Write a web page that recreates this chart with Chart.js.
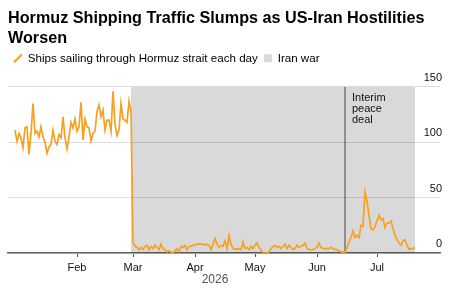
<!DOCTYPE html>
<html>
<head>
<meta charset="utf-8">
<script src="https://cdn.jsdelivr.net/npm/chart.js@4.4.1/dist/chart.umd.min.js"></script>
<style>
  html, body { margin: 0; padding: 0; background: #fff; }
  #wrap { width: 457px; height: 288px; }
</style>
</head>
<body>
<div id="wrap"><canvas id="chart"></canvas></div>
<script>
// values, one per day starting 1 Jan 2026
var firstDay = '2026-01-01';
var ships = [
  111, 101, 108, 104, 95, 113, 114, 89, 108, 135, 108, 110, 105, 114, 105, 100,
  90, 96, 98, 111, 101, 98, 107, 104, 123, 104, 94, 105, 118, 113, 121, 110,
  114, 136, 102, 121, 114, 113, 101, 108, 110, 128, 134, 123, 129, 111, 120, 120,
  110, 146, 116, 106, 111, 135, 121, 120, 118, 137, 128,
  // march on
  10, 6, 5, 3, 5, 3, 6, 7, 3, 6, 4, 7, 5, 3, 8, 4, 3, 1, 2, 1, 0, 2, 4, 1, 6, 5,
  7, 3, 6, 6, 7,
  7, 8, 8, 8, 8, 7, 8, 7, 3, 8, 13, 8, 5, 7, 6, 11, 4, 16, 8, 4, 4, 3, 4, 3, 10,
  4, 5, 3, 6, 4,
  7, 9, 5, 3, 0, 0, 0, 1, 4, 6, 7, 5, 6, 4, 6, 8, 4, 7, 5, 3, 4, 7, 5, 6, 7, 9,
  4, 3, 3, 3, 4,
  5, 9, 5, 4, 4, 4, 4, 5, 4, 3, 3, 2, 1, 1, 0, 5, 10, 14, 20, 14, 16, 14, 25, 24,
  55, 47, 34, 22, 21, 24, 29,
  34, 30, 31, 23, 27, 27, 29, 22, 16, 12, 9, 7, 11, 12, 7, 3, 4, 4, 5
];
var shipsLabel = 'Ships sailing through Hormuz strait each day';

var warLabel = 'Iran war';
var warPeriod = ['2026-02-28', '2026-07-20'];

var dealDate = '2026-06-15';
var dealText = ['Interim', 'peace', 'deal'];

var monthDays = ['2026-02-01', '2026-03-01', '2026-04-01', '2026-05-01', '2026-06-01', '2026-07-01'];
var monthLabels = ['Feb', 'Mar', 'Apr', 'May', 'Jun', 'Jul'];
var yTicks = [0, 50, 100, 150];
var yearLabel = '2026';

var orange = '#f7a021';
var font = 'Liberation Sans, Arial, sans-serif';

function dayNo(s) {
  return Math.round((Date.parse(s) - Date.parse(firstDay)) / 86400000);
}

// deal label next to the vertical line, and the year under the months
var notes = {
  id: 'notes',
  afterDatasetsDraw: function(chart) {
    var ctx = chart.ctx;
    var xs = chart.scales.x;
    var x = xs.getPixelForValue(dayNo(dealDate)) + 7;
    var y = chart.scales.y.getPixelForValue(150) + 14;
    ctx.save();
    ctx.font = '11px ' + font;
    ctx.fillStyle = '#111';
    ctx.textBaseline = 'alphabetic';
    dealText.forEach(function(line, i) {
      ctx.fillText(line, x, y + i * 11);
    });
    // year sits under the middle of the data
    var mid = (xs.getPixelForValue(0) + xs.getPixelForValue(ships.length - 1)) / 2;
    ctx.font = '12px ' + font;
    ctx.fillStyle = '#555';
    ctx.textAlign = 'center';
    ctx.textBaseline = 'middle';
    ctx.fillText(yearLabel, mid, xs.bottom + 1);
    ctx.restore();
  }
};

var ctx = document.getElementById('chart').getContext('2d');
var chart = new Chart(ctx, {
  type: 'line',
  data: {
    datasets: [{
      label: shipsLabel,
      data: ships.map(function(v, i) { return { x: i, y: v }; }),
      borderColor: orange,
      borderWidth: 1.7,
      pointRadius: 0,
      tension: 0,
      order: 0
    }, {
      label: dealDate,
      data: [{ x: dayNo(dealDate), y: 0 }, { x: dayNo(dealDate), y: 150 }],
      borderColor: '#444',
      borderWidth: 1,
      pointRadius: 0,
      order: 1
    }, {
      label: warLabel,
      data: [{ x: dayNo(warPeriod[0]), y: 150 }, { x: dayNo(warPeriod[1]), y: 150 }],
      borderWidth: 0,
      backgroundColor: 'rgba(0,0,0,0.15)',
      fill: 'origin',
      pointRadius: 0,
      order: 2
    }]
  },
  options: {
    responsive: true,
    maintainAspectRatio: false,
    animation: false,
    layout: { padding: { left: 8, right: 13, top: 0, bottom: 9 } },
    plugins: {
      title: {
        display: true,
        text: ['Hormuz Shipping Traffic Slumps as US-Iran Hostilities', 'Worsen'],
        align: 'start',
        color: '#000',
        font: { family: font, size: 16.2, weight: 'bold', lineHeight: 1.25 },
        padding: { top: 8, bottom: -2 }
      },
      legend: {
        display: true,
        align: 'start',
        labels: {
          usePointStyle: true,
          boxWidth: 8,
          boxHeight: 8,
          padding: 6,
          color: '#111',
          font: { family: font, size: 11.6 },
          generateLabels: function() {
            return [
              { text: shipsLabel, pointStyle: 'line', rotation: -45, strokeStyle: orange, fillStyle: orange, lineWidth: 2, datasetIndex: 0 },
              { text: warLabel, pointStyle: 'rect', rotation: 0, strokeStyle: '#d0d0d0', fillStyle: '#d9d9d9', lineWidth: 0, datasetIndex: 2 }
            ];
          }
        }
      },
      tooltip: { enabled: false }
    },
    scales: {
      x: {
        type: 'linear',
        min: -3.5,
        max: 212.5,
        afterBuildTicks: function(scale) {
          scale.ticks = monthDays.map(function(d) { return { value: dayNo(d) }; });
        },
        ticks: {
          autoSkip: false,
          maxRotation: 0,
          padding: 4,
          color: '#111',
          font: { family: font, size: 11, lineHeight: '14px' },
          callback: function(v, i) { return monthLabels[i]; }
        },
        grid: { drawOnChartArea: false, drawTicks: true, tickLength: 4, color: '#555' },
        border: { display: true, color: '#666', width: 1.5 }
      },
      y: {
        type: 'linear',
        position: 'right',
        min: 0,
        max: 161.6,
        afterBuildTicks: function(scale) {
          scale.ticks = yTicks.map(function(v) { return { value: v }; });
        },
        ticks: {
          mirror: true,
          padding: 2,
          labelOffset: -9,
          color: '#111',
          font: { family: font, size: 11 }
        },
        grid: { color: '#dddddd', drawTicks: false },
        border: { display: false }
      }
    }
  },
  plugins: [notes]
});
</script>
</body>
</html>
